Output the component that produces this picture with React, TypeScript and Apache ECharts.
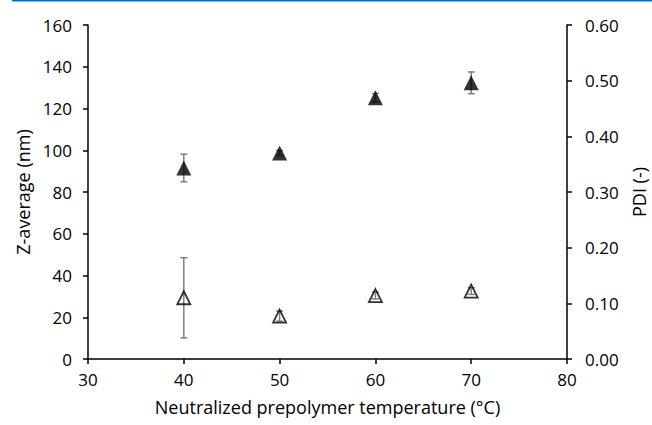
import React, { useEffect, useRef } from "react";
import * as echarts from "echarts";

const temperatures = [40, 50, 60, 70];
const zAverage = [91.5, 98.7, 125.2, 132.3];
const zAverageErr = [6.6, 1.2, 2.0, 5.2];
const pdi = [0.11, 0.077, 0.114, 0.122];
const pdiErr = [0.072, 0.009, 0.006, 0.006];

const FONT = "Open Sans";

function errorBarSeries(values: number[], errs: number[], yAxisIndex: number) {
  return {
    type: "custom",
    xAxisIndex: 0,
    yAxisIndex,
    z: 1,
    silent: true,
    data: temperatures.map((t, i) => [t, values[i] - errs[i], values[i] + errs[i]]),
    renderItem: (params: any, api: any) => {
      const x = api.value(0);
      const lo = api.coord([x, api.value(1)]);
      const hi = api.coord([x, api.value(2)]);
      const hw = 3.5;
      const style = { stroke: "#7f7f7f", lineWidth: 1.5 };
      return {
        type: "group",
        children: [
          { type: "line", shape: { x1: lo[0], y1: lo[1], x2: hi[0], y2: hi[1] }, style },
          { type: "line", shape: { x1: lo[0] - hw, y1: lo[1], x2: lo[0] + hw, y2: lo[1] }, style },
          { type: "line", shape: { x1: hi[0] - hw, y1: hi[1], x2: hi[0] + hw, y2: hi[1] }, style },
        ],
      };
    },
  };
}

export default function App() {
  const ref = useRef<HTMLDivElement>(null);
  useEffect(() => {
    if (!ref.current) return;
    const chart = echarts.init(ref.current, null, { renderer: "svg" });
    const axisLine = { show: true, lineStyle: { color: "#000", width: 1.5 } };
    const axisTick = { show: true, inside: false, length: 5, lineStyle: { color: "#000", width: 1.5 } };
    const label = { color: "#000", fontFamily: FONT, fontSize: 17 };
    const nameStyle = { color: "#000", fontFamily: FONT, fontSize: 18 };
    chart.setOption({
      animation: false,
      backgroundColor: "#fff",
      graphic: [
        { type: "rect", shape: { x: 12, y: 0, width: 640, height: 1.5 }, style: { fill: "#0070c0" } },
      ],
      grid: { left: 88, right: 85, top: 25, bottom: 66, containLabel: false, outerBoundsMode: "none" },
      xAxis: {
        type: "value",
        min: 30,
        max: 80,
        interval: 10,
        axisLine,
        axisTick,
        splitLine: { show: false },
        axisLabel: { ...label, margin: 12 },
        name: "Neutralized prepolymer temperature (°C)",
        nameLocation: "middle",
        nameGap: 39,
        nameTextStyle: nameStyle,
      },
      yAxis: [
        {
          type: "value",
          min: 0,
          max: 160,
          interval: 20,
          axisLine,
          axisTick,
          splitLine: { show: false },
          axisLabel: { ...label, margin: 16 },
          name: "Z-average (nm)",
          nameLocation: "middle",
          nameGap: 56,
          nameRotate: 90,
          nameTextStyle: nameStyle,
        },
        {
          type: "value",
          min: 0,
          max: 0.6,
          interval: 0.1,
          position: "right",
          axisLine,
          axisTick,
          splitLine: { show: false },
          axisLabel: { ...label, margin: 18, formatter: (v: number) => v.toFixed(2) },
          name: "PDI (-)",
          nameLocation: "middle",
          nameGap: 63,
          nameRotate: 90,
          nameTextStyle: nameStyle,
        },
      ],
      series: [
        errorBarSeries(zAverage, zAverageErr, 0),
        errorBarSeries(pdi, pdiErr, 1),
        {
          type: "scatter",
          name: "Z-average",
          xAxisIndex: 0,
          yAxisIndex: 0,
          z: 3,
          symbol: "triangle",
          symbolSize: [15, 15],
          itemStyle: { color: "#000" },
          data: temperatures.map((t, i) => [t, zAverage[i]]),
        },
        {
          type: "scatter",
          name: "PDI",
          xAxisIndex: 0,
          yAxisIndex: 1,
          z: 3,
          symbol: "triangle",
          symbolSize: [13, 13],
          itemStyle: { color: "rgba(255,255,255,0)", borderColor: "#000", borderWidth: 1.8 },
          data: temperatures.map((t, i) => [t, pdi[i]]),
        },
      ],
    });
    return () => chart.dispose();
  }, []);
  return (
    <div
      ref={ref}
      style={{ position: "fixed", left: 0, top: 0, width: 652, height: 425, background: "#fff" }}
    />
  );
}
